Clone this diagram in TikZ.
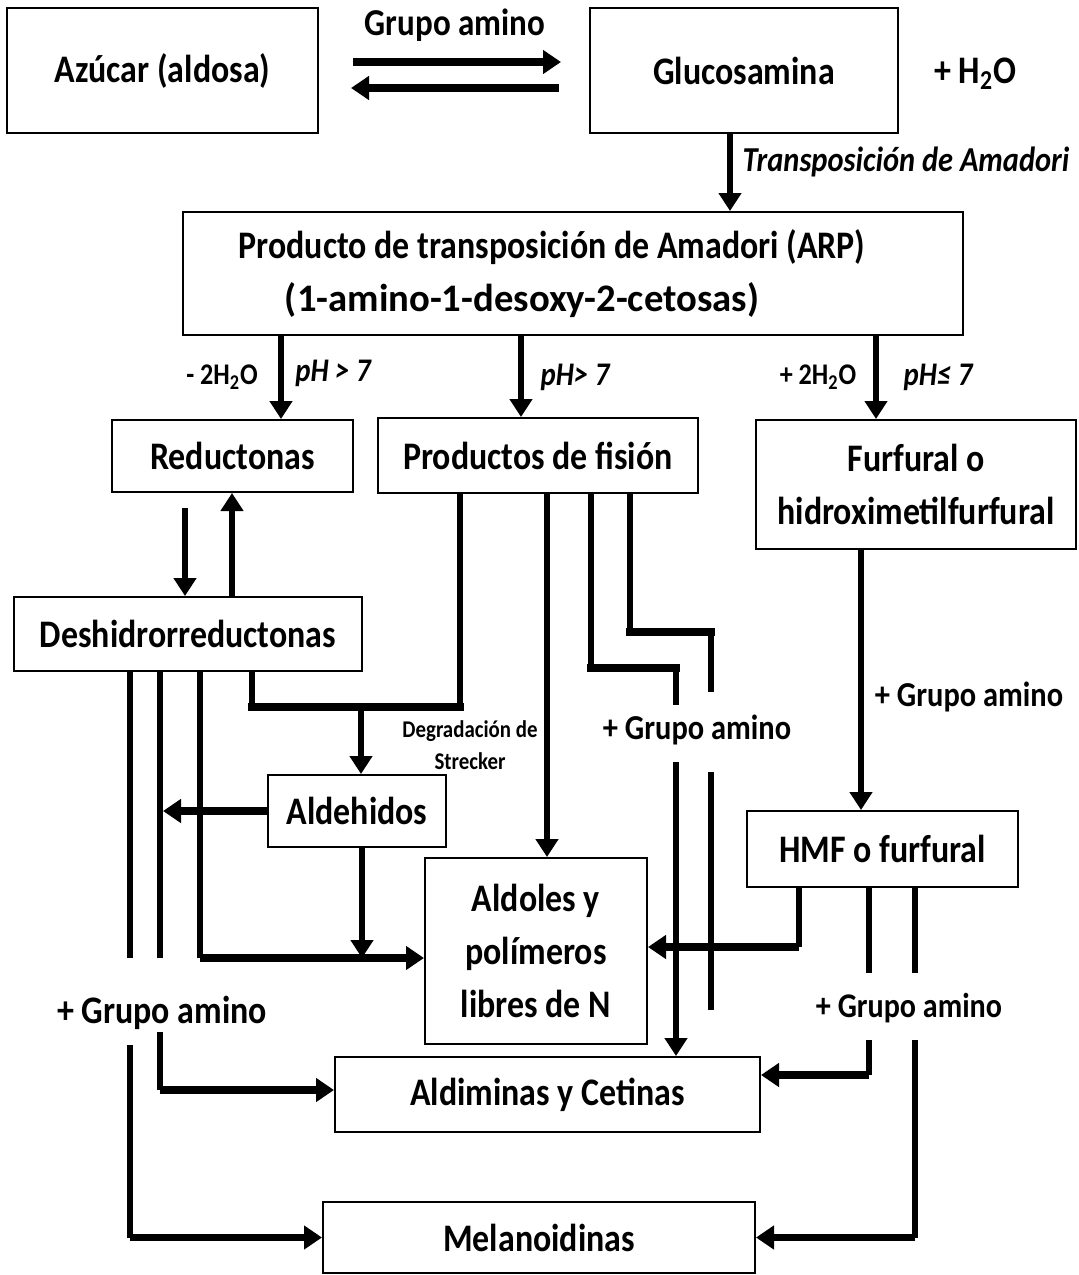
\documentclass[tikz,border=0pt]{standalone}
\usepackage{fontspec}
\setmainfont{Carlito}[FakeStretch=0.87]
\usetikzlibrary{arrows.meta,positioning}
\tikzset{
  box/.style={rectangle, draw=black, line width=1pt, align=center, inner sep=0pt,
    font=\bfseries\fontsize{19.5}{26.5}\selectfont},
  lbl/.style={inner sep=0pt, font=\bfseries\fontsize{17.5}{22}\selectfont},
  cond/.style={inner sep=0pt, font=\bfseries\itshape\fontsize{16.5}{18}\selectfont},
  wat/.style={inner sep=0pt, font=\bfseries\fontsize{15}{17}\selectfont},
  small/.style={inner sep=0pt, align=center, font=\bfseries\fontsize{12}{16}\selectfont},
  vline/.style={draw, line width=2.6pt},
  hline/.style={draw, line width=3.6pt, line cap=rect},
  varrow/.style={vline, -{Triangle[length=9pt,width=11pt]}},
  harrow/.style={draw, line width=3.6pt, -{Triangle[length=9pt,width=11.5pt]}},
}
\begin{document}
\begin{tikzpicture}[x=0.5pt,y=-0.5pt]
  \useasboundingbox (0,0) rectangle (1078,1275);

  % boxes
  \node[box, minimum width=155.5pt, minimum height=62.5pt] (azucar) at (162.5,70.5) {Azúcar (aldosa)};
  \node[box, minimum width=154pt, minimum height=62.5pt] (gluco) at (744,70.5) {Glucosamina};
  \node[box, minimum width=390pt, minimum height=61.5pt] (arp) at (573,273.5)
    {Producto de transposición de Amadori (ARP)\hspace*{21pt}\\\scalebox{1.14}[1]{(1-amino-1-desoxy-2-cetosas)}\hspace*{51pt}};
  \node[box, minimum width=120.5pt, minimum height=36pt] (reduct) at (232.5,456) {Reductonas};
  \node[box, minimum width=160pt, minimum height=37.5pt] (fision) at (538,455.5) {Productos de fisión};
  \node[box, minimum width=160pt, minimum height=64.5pt] (furfural) at (916,484.5) {Furfural o\\hidroximetilfurfural};
  \node[box, minimum width=174pt, minimum height=37pt] (desh) at (188,634) {Deshidrorreductonas};
  \node[box, minimum width=89pt, minimum height=36pt] (aldeh) at (357,811) {Aldehidos};
  \node[box, minimum width=135.5pt, minimum height=38pt] (hmf) at (882.5,849) {HMF o furfural};
  \node[box, minimum width=111pt, minimum height=93pt] (aldoles) at (536,951) {Aldoles y\\polímeros\\libres de N};
  \node[box, minimum width=212.5pt, minimum height=37.5pt] (aldim) at (547.5,1094.5) {Aldiminas y Cetinas};
  \node[box, minimum width=216pt, minimum height=35.5pt] (melan) at (539,1237.5) {Melanoidinas};

  % labels
  \node[lbl, font=\bfseries\fontsize{19}{22}\selectfont] (grupo) at (455,25) {Grupo amino};
  \node[lbl, font=\bfseries\fontsize{19.5}{22}\selectfont] (agua) at (975,74) {+ H\textsubscript{2}O};
  \node[cond, font=\bfseries\itshape\fontsize{17.5}{18}\selectfont] (amadori) at (906,162) {Transposición de Amadori};
  \node[wat] (menos) at (222,377) {- 2H\textsubscript{2}O};
  \node[cond] (ph1) at (333,373) {pH > 7};
  \node[cond] (ph2) at (575,377) {pH> 7};
  \node[wat] (mas) at (818,377) {+ 2H\textsubscript{2}O};
  \node[cond] (ph3) at (938,377) {pH≤ 7};
  \node[small] (strecker) at (470,745) {Degradación de\\Strecker};
  \node[lbl] (amino1) at (697,730) {+ Grupo amino};
  \node[lbl] (amino2) at (969,697) {+ Grupo amino};
  \node[lbl, font=\bfseries\fontsize{19.5}{22}\selectfont] (amino3) at (162,1013) {+ Grupo amino};
  \node[lbl, font=\bfseries\fontsize{17.3}{20}\selectfont] (amino4) at (909,1008) {+ Grupo amino};

  % free ends and junctions
  \coordinate (sL) at (252,707);
  \coordinate (strk) at (361,707);
  \coordinate (sR) at (460,707);
  \coordinate (join) at (362,958);
  \coordinate (fA0) at (591,668);
  \coordinate (fA1) at (676,705);
  \coordinate (fA2) at (676,762);
  \coordinate (fB0) at (630,632);
  \coordinate (fB1) at (711,692);
  \coordinate (fB2) at (711,772);
  \coordinate (fB3) at (711,1010);
  \coordinate (hA1) at (869,973);
  \coordinate (hA2) at (869,1040);
  \coordinate (hB1) at (915,973);
  \coordinate (hB2) at (915,1040);
  \coordinate (dA1) at (130,958);
  \coordinate (dA2) at (130,1045);
  \coordinate (dB1) at (160,958);
  \coordinate (dB2) at (160,1032);
  \coordinate (dC) at (200,958);
  \coordinate (hC) at (799,947);

  % connectors
  \path[harrow, shorten <=17pt, shorten >=14pt] (azucar.east |- 0,62) -- (gluco.west |- 0,62);
  \path[harrow, shorten <=15pt, shorten >=16pt] (gluco.west |- 0,88) -- (azucar.east |- 0,88);
  \path[varrow] (gluco.south -| 730,0) -- (arp.north -| 730,0);
  \path[varrow] (arp.south -| 281,0) -- (reduct.north -| 281,0);
  \path[varrow] (arp.south -| 521,0) -- (fision.north -| 521,0);
  \path[varrow] (arp.south -| 876,0) -- (furfural.north -| 876,0);

  \path[varrow, shorten <=7.5pt] (reduct.south -| 185,0) -- (desh.north -| 185,0);
  \path[varrow] (desh.north -| 232,0) -- (reduct.south -| 232,0);

  % Strecker
  \path[vline] (desh.south -| sL) -- (sL);
  \path[hline] (sL) -- (sR);
  \path[vline] (sR) -- (fision.south -| sR);
  \path[varrow] (strk) -- (aldeh.north -| strk);

  % Productos de fision
  \path[varrow] (fision.south -| 547,0) -- (aldoles.north -| 547,0);
  \path[vline] (fision.south -| fA0) -- (fA0);
  \path[hline] (fA0) -- (fA0 -| fA1);
  \path[vline] (fA0 -| fA1) -- (fA1);
  \path[varrow] (fA2) -- (aldim.north -| fA2);
  \path[vline] (fision.south -| fB0) -- (fB0);
  \path[hline] (fB0) -- (fB0 -| fB1);
  \path[vline] (fB0 -| fB1) -- (fB1);
  \path[vline] (fB2) -- (fB3);

  % HMF
  \path[varrow] (furfural.south -| 861,0) -- (hmf.north -| 861,0);
  \path[vline] (hmf.south -| hC) -- (hC);
  \path[harrow] (hC) -- (aldoles.east |- hC);
  \path[vline] (hmf.south -| hA1) -- (hA1);
  \path[vline] (hA2) -- (hA2 |- 0,1075);
  \path[harrow] (hA2 |- 0,1075) -- (aldim.east |- 0,1075);
  \path[vline] (hmf.south -| hB1) -- (hB1);
  \path[vline] (hB2) -- (hB2 |- melan.east);
  \path[harrow] (hB2 |- melan.east) -- (melan.east);

  % Deshidrorreductonas
  \path[vline] (desh.south -| dA1) -- (dA1);
  \path[vline] (dA2) -- (dA2 |- melan.west);
  \path[harrow] (dA2 |- melan.west) -- (melan.west);
  \path[vline] (desh.south -| dB1) -- (dB1);
  \path[vline] (dB2) -- (dB2 |- 0,1090);
  \path[harrow] (dB2 |- 0,1090) -- (aldim.west |- 0,1090);
  \path[vline] (desh.south -| dC) -- (dC);
  \path[harrow] (dC) -- (aldoles.west |- dC);
  \path[harrow] (aldeh.west) -- (aldeh.west -| 163,0);
  \path[varrow] (aldeh.south -| join) -- (join);
\end{tikzpicture}
\end{document}
